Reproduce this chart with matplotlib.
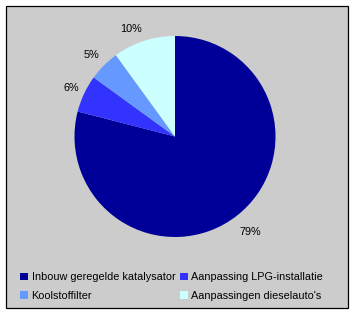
import matplotlib
matplotlib.use("Agg")
import matplotlib.pyplot as plt
from matplotlib.patches import Rectangle, Patch

categories = ["Inbouw geregelde katalysator", "Aanpassing LPG-installatie",
              "Koolstoffilter", "Aanpassingen dieselauto's"]
values = [79, 6, 5, 10]
labels = ["79%", "6%", "5%", "10%"]
colors = ["#000099", "#3333FF", "#6699FF", "#CCFFFF"]

W, H = 354, 313
dpi = 100
plt.rcParams['font.family'] = ['Liberation Sans', 'DejaVu Sans']
fig = plt.figure(figsize=(W / dpi, H / dpi), dpi=dpi)
fig.patch.set_facecolor("white")

def fx(px):
    return px / W

def fy(py):
    return (H - py) / H

# gray framed chart area
fig.patches.append(Rectangle((fx(5.5), fy(307.5)), fx(342), (302) / H,
                             transform=fig.transFigure, facecolor="#CCCCCC",
                             edgecolor="black", linewidth=0.9, zorder=-5))

# pie axes: centre (175,136.5), radius ~100 px -> axes with limits +-1.5
cx, cy, r = 175, 136.5, 100.5
half = 1.5 * r
ax = fig.add_axes([fx(cx - half), fy(cy + half), 2 * half / W, 2 * half / H])
ax.patch.set_visible(False)
wedges, texts = ax.pie(values, labels=labels, colors=colors, startangle=90,
                       counterclock=False, labeldistance=1.2,
                       wedgeprops=dict(linewidth=0),
                       textprops=dict(fontsize=7.8, color="black"))
ax.set_xlim(-1.5, 1.5)
ax.set_ylim(-1.5, 1.5)
ax.set_aspect("equal")
ax.axis("off")
# small label nudges (data units) to mimic the original label placement
nudges = [(0.01, 0.0), (0.05, -0.03), (0.02, -0.04), (-0.07, -0.07)]
for t, (dx, dy) in zip(texts, nudges):
    x, y = t.get_position()
    t.set_position((x + dx, y + dy))
    t.set_ha("center")
    t.set_va("center")

# legend
order = [0, 2, 1, 3]
handles = [Patch(facecolor=colors[i], edgecolor="none") for i in order]
leg_labels = [categories[i] for i in order]
fig.legend(handles, leg_labels, ncol=2, loc="upper left",
           bbox_to_anchor=(fx(17), fy(269)), frameon=False, fontsize=7.8,
           handlelength=0.75, handleheight=0.75, handletextpad=0.3,
           columnspacing=0.4, labelspacing=0.8, borderaxespad=0,
           borderpad=0.3)

fig.savefig("out.png", dpi=dpi)
